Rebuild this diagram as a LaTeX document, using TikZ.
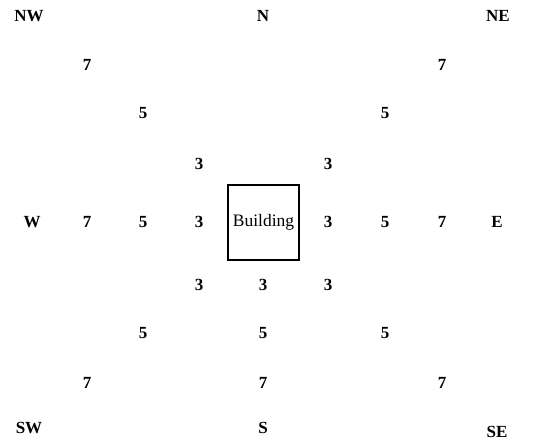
\documentclass[tikz,border=0pt]{standalone}
\usepackage{fontspec}
\setmainfont{Liberation Serif}
\begin{document}
\begin{tikzpicture}[x=1pt,y=-1pt,
  lab/.style={font=\fontsize{17}{17}\selectfont\bfseries, inner sep=0pt},
  bldg/.style={draw, line width=1.8pt, minimum width=71pt, minimum height=75pt, inner sep=0pt, font=\fontsize{17.5}{17.5}\selectfont}]
\useasboundingbox (0,0) rectangle (535,443);
% compass labels
\node[lab] (nw) at (29,16) {NW};
\node[lab] (n) at (263,16) {N};
\node[lab] (ne) at (498,16) {NE};
\node[lab] (w) at (32,222) {W};
\node[lab] (e) at (497,222) {E};
\node[lab] (sw) at (29,428) {SW};
\node[lab] (s) at (263,428) {S};
\node[lab] (se) at (497,432) {SE};
% building
\node[bldg] (b) at (263.5,222.5) {Building};
% ring 7
\node[lab] (a7nw) at (87,65) {7};
\node[lab] (a7ne) at (442,65) {7};
\node[lab] (a7w) at (87,222) {7};
\node[lab] (a7e) at (442,222) {7};
\node[lab] (a7sw) at (87,383) {7};
\node[lab] (a7s) at (263,383) {7};
\node[lab] (a7se) at (442,383) {7};
% ring 5
\node[lab] (a5nw) at (143,113) {5};
\node[lab] (a5ne) at (385,113) {5};
\node[lab] (a5w) at (143,222) {5};
\node[lab] (a5e) at (385,222) {5};
\node[lab] (a5sw) at (143,333) {5};
\node[lab] (a5s) at (263,333) {5};
\node[lab] (a5se) at (385,333) {5};
% ring 3
\node[lab] (a3nw) at (199,164) {3};
\node[lab] (a3ne) at (328,164) {3};
\node[lab] (a3w) at (199,222) {3};
\node[lab] (a3e) at (328,222) {3};
\node[lab] (a3sw) at (199,285) {3};
\node[lab] (a3s) at (263,285) {3};
\node[lab] (a3se) at (328,285) {3};
\end{tikzpicture}
\end{document}
